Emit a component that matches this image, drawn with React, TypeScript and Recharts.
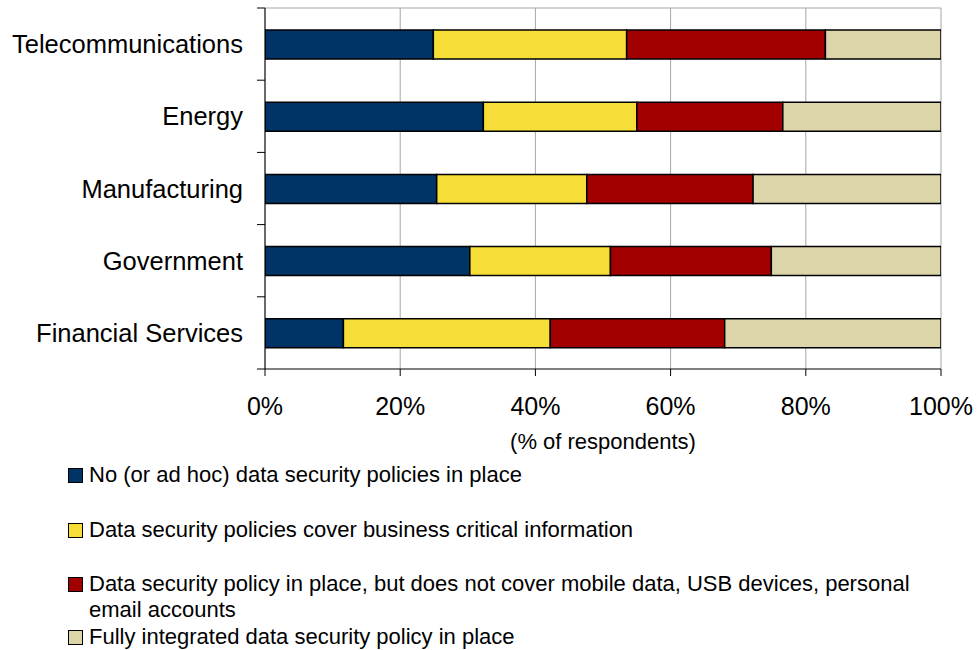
import { Bar, BarChart, CartesianGrid, Label, XAxis, YAxis } from "recharts";

const sectors = ["Telecommunications", "Energy", "Manufacturing", "Government", "Financial Services"];
const noPolicy = [24.9, 32.3, 25.4, 30.3, 11.6];
const criticalOnly = [28.6, 22.7, 22.2, 20.8, 30.6];
const notMobile = [29.4, 21.6, 24.6, 23.8, 25.8];
const integrated = [17.1, 23.4, 27.8, 25.1, 32.0];
const xTicks = [0, 20, 40, 60, 80, 100];

const seriesKeys = ["noPolicy", "criticalOnly", "notMobile", "integrated"];
const seriesNames = [
    "No (or ad hoc) data security policies in place",
    "Data security policies cover business critical information",
    "Data security policy in place, but does not cover mobile data, USB devices, personal email accounts",
    "Fully integrated data security policy in place",
];
const seriesColors = ["#003366", "#F6DD38", "#A20000", "#DCD5AA"];

const chartData = sectors.map((sector, i) => ({
    sector,
    noPolicy: noPolicy[i],
    criticalOnly: criticalOnly[i],
    notMobile: notMobile[i],
    integrated: integrated[i],
}));

const FONT = "'Liberation Sans', Arial, sans-serif";
const AXIS_X = 265;
const PLOT_TOP = 8;
const PLOT_BOTTOM = 369;
const BAND = (PLOT_BOTTOM - PLOT_TOP) / sectors.length;
const legendGaps = [2, 29, 28, 1];

function SectorTick(props: any) {
    const { y, payload } = props;
    const index = props.index ?? payload.index ?? 0;
    const half = BAND / 2;
    return (
        <g>
            <line x1={AXIS_X - 8} x2={AXIS_X} y1={y - half} y2={y - half} stroke="#000" />
            {index === sectors.length - 1 && (
                <line x1={AXIS_X - 8} x2={AXIS_X} y1={y + half} y2={y + half} stroke="#000" />
            )}
            <text x={AXIS_X - 22} y={y} dy="0.355em" textAnchor="end" fontSize={25.5} fill="#000" fontFamily={FONT}>
                {payload.value}
            </text>
        </g>
    );
}

function App() {
    return (
        <div style={{ position: "absolute", left: 0, top: 0, width: 979, height: 650, background: "#fff", fontFamily: FONT }}>
            <BarChart
                layout="vertical"
                width={979}
                height={460}
                data={chartData}
                margin={{ top: PLOT_TOP, right: 38, bottom: 0, left: 0 }}
                barSize={29}
            >
                <CartesianGrid
                    stroke="#a6a6a6"
                    vertical={true}
                    horizontal={true}
                    horizontalCoordinatesGenerator={({ offset }: any) => [offset.top]}
                />
                <XAxis
                    type="number"
                    domain={[0, 100]}
                    allowDataOverflow
                    ticks={xTicks}
                    tickFormatter={(v: number) => `${v}%`}
                    height={91}
                    tickSize={7}
                    tickMargin={21}
                    axisLine={{ stroke: "#000" }}
                    tickLine={{ stroke: "#000" }}
                    tick={{ fontSize: 25, fill: "#000", fontFamily: FONT }}
                >
                    <Label value="(% of respondents)" position="insideBottom" offset={11} fontSize={22} fill="#000" fontFamily={FONT} />
                </XAxis>
                <YAxis
                    type="category"
                    dataKey="sector"
                    width={AXIS_X}
                    tickLine={false}
                    axisLine={{ stroke: "#000" }}
                    tick={<SectorTick />}
                    interval={0}
                />
                {seriesKeys.map((key, i) => (
                    <Bar
                        key={key}
                        dataKey={key}
                        name={seriesNames[i]}
                        stackId="a"
                        fill={seriesColors[i]}
                        stroke="#000"
                        strokeWidth={1.5}
                        isAnimationActive={false}
                    />
                ))}
            </BarChart>
            <div style={{ position: "absolute", left: 0, top: 460, width: 979 }}>
                {seriesNames.map((name, i) => (
                    <div key={name} style={{ display: "flex", alignItems: "flex-start", marginTop: legendGaps[i], fontSize: 22, lineHeight: "26px", color: "#000" }}>
                        <span
                            style={{
                                display: "inline-block",
                                width: 13,
                                height: 13,
                                marginLeft: 68,
                                marginRight: 6,
                                marginTop: 6,
                                background: seriesColors[i],
                                border: "1px solid #000",
                                flexShrink: 0,
                            }}
                        />
                        <span style={{ width: 845 }}>{name}</span>
                    </div>
                ))}
            </div>
        </div>
    );
}

export default App;
